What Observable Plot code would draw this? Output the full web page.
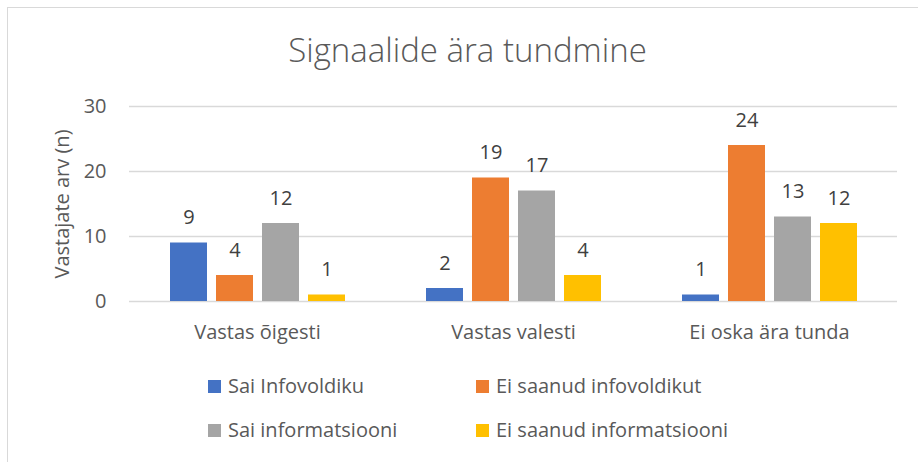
<!DOCTYPE html>
<html>
<head>
<meta charset="utf-8">
<script src="https://cdn.jsdelivr.net/npm/d3@7"></script>
<script src="https://cdn.jsdelivr.net/npm/@observablehq/plot@0.6"></script>
<style>
  html, body { margin: 0; padding: 0; background: #fff; }
  body { width: 918px; height: 462px; position: relative; overflow: hidden; font-family: "Open Sans", Lato, sans-serif; color: #595959; }
  #frame { position: absolute; left: 7px; top: 7px; width: 940px; height: 500px; border: 1px solid #d9d9d9; box-sizing: border-box; }
  #title { position: absolute; left: 0; width: 935px; top: 27px; text-align: center; font-size: 33px; font-weight: 300; color: #595959; line-height: 45px; white-space: nowrap; }
  #chart { position: absolute; left: 0; top: 0; }
  #ylabel { position: absolute; left: 61px; top: 204px; transform: translate(-50%, -50%) rotate(-90deg); font-size: 20px; color: #595959; white-space: nowrap; line-height: 27px; }
  .leg { position: absolute; font-size: 20px; color: #595959; white-space: nowrap; line-height: 27px; }
  .sw { position: absolute; width: 13px; height: 13px; }
</style>
</head>
<body>
<div id="frame"></div>
<div id="chart"></div>
<div id="title">Signaalide ära tundmine</div>
<div id="ylabel">Vastajate arv (n)</div>
<div id="legend"></div>
<script>
const categories = ["Vastas õigesti", "Vastas valesti", "Ei oska ära tunda"];
const seriesNames = ["Sai Infovoldiku", "Ei saanud infovoldikut", "Sai informatsiooni", "Ei saanud informatsiooni"];
const saiInfovoldiku = [9, 2, 1];
const eiSaanudInfovoldikut = [4, 19, 24];
const saiInformatsiooni = [12, 17, 13];
const eiSaanudInformatsiooni = [1, 4, 12];
const yTicks = [0, 10, 20, 30];
const colors = ["#4472C4", "#ED7D31", "#A5A5A5", "#FFC000"];

const seriesValues = [saiInfovoldiku, eiSaanudInfovoldikut, saiInformatsiooni, eiSaanudInformatsiooni];
const data = categories.flatMap((c, i) => seriesNames.map((s, j) => ({category: c, series: s, value: seriesValues[j][i]})));

const chart = Plot.plot({
  width: 918,
  height: 345,
  marginLeft: 128,
  marginRight: 20,
  marginTop: 106,
  marginBottom: 44,
  style: {fontFamily: "'Open Sans', Lato, sans-serif", fontSize: "20px", color: "#595959", background: "transparent", overflow: "visible"},
  fx: {domain: categories, padding: 0, label: null},
  x: {domain: seriesNames, paddingInner: 0.2, paddingOuter: 0.86, axis: null},
  y: {domain: [0, 30], label: null},
  color: {domain: seriesNames, range: colors},
  marks: [
    Plot.ruleY(yTicks, {stroke: "#d9d9d9", strokeWidth: 1.3}),
    Plot.barY(data, {fx: "category", x: "series", y: "value", fill: "series"}),
    Plot.text(data, {fx: "category", x: "series", y: "value", text: d => String(d.value), dy: -19, lineAnchor: "bottom", fill: "#404040", fontSize: 20}),
    Plot.axisY({ticks: yTicks, tickSize: 0, tickPadding: 23, label: null, fill: "#595959", fontSize: 20}),
    Plot.axisFx({anchor: "bottom", tickSize: 0, tickPadding: 23, label: null, fill: "#595959", fontSize: 20})
  ]
});
document.getElementById("chart").appendChild(chart);

const legendPos = [[208, 393], [476, 393], [208, 437], [476, 437]];
const legend = document.getElementById("legend");
seriesNames.forEach((s, i) => {
  const [x, base] = legendPos[i];
  const sw = document.createElement("div");
  sw.className = "sw";
  sw.style.left = x + "px";
  sw.style.top = (base - 13) + "px";
  sw.style.background = colors[i];
  legend.appendChild(sw);
  const t = document.createElement("div");
  t.className = "leg";
  t.style.left = (x + 20) + "px";
  t.style.top = (base - 21.4) + "px";
  t.textContent = s;
  legend.appendChild(t);
});
</script>
</body>
</html>
